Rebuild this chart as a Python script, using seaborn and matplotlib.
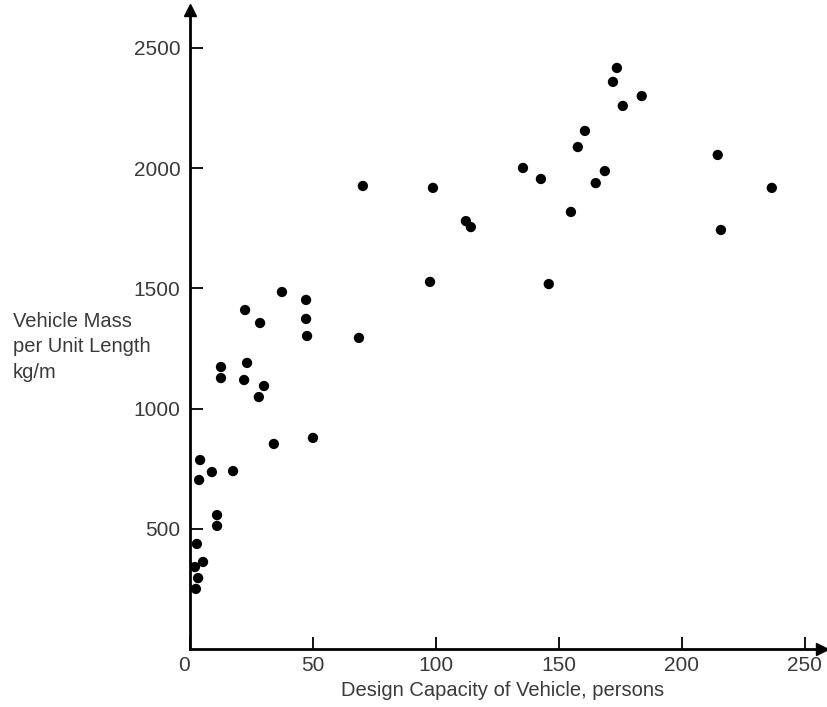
import matplotlib
matplotlib.use("Agg")
import matplotlib.pyplot as plt
import seaborn as sns
import pandas as pd

capacity = [2.4, 3.3, 2.0, 5.3, 2.8, 11.0, 11.0, 3.7, 8.9, 17.5, 4.1, 34.1, 50.0,
            28.0, 30.1, 22.0, 12.6, 12.6, 23.2, 28.5, 22.4, 37.4, 47.2, 47.2, 47.6,
            68.7, 97.6, 145.9, 112.2, 114.2, 154.9, 98.8, 70.3, 135.4, 142.7, 168.7,
            165.0, 157.7, 160.6, 173.6, 172.0, 183.7, 176.0, 214.6, 215.9, 236.6]
mass = [250, 295, 341, 362, 437, 512, 557, 703, 736, 740, 786, 853, 878,
        1048, 1094, 1119, 1127, 1173, 1190, 1356, 1410, 1485, 1452, 1373, 1302,
        1294, 1527, 1518, 1780, 1755, 1818, 1918, 1926, 2001, 1955, 1988,
        1938, 2088, 2155, 2417, 2359, 2300, 2259, 2055, 1743, 1918]
x_ticks = [0, 50, 100, 150, 200, 250]
y_ticks = [500, 1000, 1500, 2000, 2500]

sns.set_style("white")
plt.rcParams['font.family'] = ['Liberation Sans', 'DejaVu Sans']

df = pd.DataFrame({"capacity": capacity, "mass": mass})

fig = plt.figure(figsize=(8.27, 7.07), dpi=100)
ax = fig.add_axes([190/827, 58/707, (822-190)/827, (649-10)/707])

sns.scatterplot(data=df, x="capacity", y="mass", ax=ax, color="black",
                s=55, edgecolor="none", linewidth=0)

ax.set_xlim(0, 257)
ax.set_ylim(0, 2658)
ax.set_xticks(x_ticks)
ax.set_yticks(y_ticks)
ax.set_xticklabels([str(t) for t in x_ticks])
ax.set_yticklabels([str(t) for t in y_ticks])
ax.tick_params(axis="both", direction="in", length=9, width=1.3, color="black",
               labelsize=15, labelcolor="#3a3a3a", bottom=True, left=True)
ax.tick_params(axis="x", pad=5)
ax.tick_params(axis="y", pad=7)
ax.get_xticklabels()[0].set_horizontalalignment("right")
ax.set_xlabel("")
ax.set_ylabel("")

for side in ["top", "right"]:
    ax.spines[side].set_visible(False)
for side in ["left", "bottom"]:
    ax.spines[side].set_linewidth(2)
    ax.spines[side].set_color("black")

# arrow heads at axis ends
ax.plot(1, 0, ">", color="black", markersize=8, transform=ax.get_yaxis_transform(), clip_on=False)
ax.plot(0, 1, "^", color="black", markersize=8, transform=ax.get_xaxis_transform(), clip_on=False)

fig.text(13/827, 1 - 347/707, "Vehicle Mass\nper Unit Length\nkg/m", ha="left", va="center",
         fontsize=14.5, color="#3a3a3a", linespacing=1.45)
fig.text(503/827, 1 - 691/707, "Design Capacity of Vehicle, persons", ha="center", va="center",
         fontsize=14.5, color="#3a3a3a")

fig.savefig("out.png", dpi=100, facecolor="white")
